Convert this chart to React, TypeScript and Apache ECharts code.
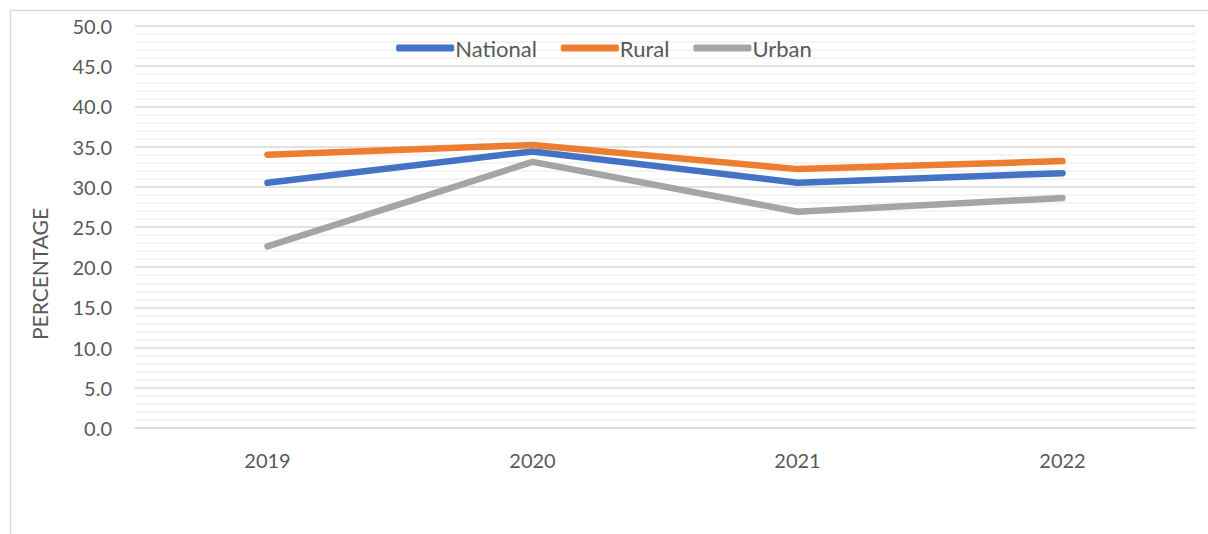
import React, { useEffect, useRef } from "react";
import * as echarts from "echarts";

const years = ["2019", "2020", "2021", "2022"];
const national = [30.5, 34.4, 30.5, 31.7];
const rural = [34.0, 35.2, 32.2, 33.2];
const urban = [22.6, 33.1, 26.9, 28.6];
const yAxisTitle = "PERCENTAGE";

const FONT = "Lato, 'Noto Sans', sans-serif";
const TEXT = "#595959";

export default function App() {
  const ref = useRef<HTMLDivElement>(null);
  useEffect(() => {
    if (!ref.current) return;
    const chart = echarts.init(ref.current, null, { renderer: "svg" });
    const mk = (name: string, data: number[], color: string) => ({
      name,
      type: "line",
      data,
      symbol: "none",
      lineStyle: { color, width: 6.5, cap: "round", join: "round" },
      itemStyle: { color },
      z: 3,
    });
    chart.setOption({
      animation: false,
      backgroundColor: "#ffffff",
      textStyle: { fontFamily: FONT },
      grid: { left: 135, right: 13, top: 26, bottom: 106 },
      legend: {
        top: 32,
        left: "center",
        icon: "roundRect",
        itemWidth: 58,
        itemHeight: 7,
        itemGap: 24,
        textStyle: { color: TEXT, fontSize: 22, fontFamily: FONT, padding: [0, 0, 0, -4] },
        data: ["National", "Rural", "Urban"],
      },
      xAxis: {
        type: "category",
        data: years,
        boundaryGap: true,
        axisLine: { show: true, lineStyle: { color: "#d9d9d9", width: 1.5 } },
        axisTick: { show: false },
        axisLabel: { color: TEXT, fontSize: 20, margin: 22, fontFamily: FONT },
        splitLine: { show: false },
      },
      yAxis: {
        type: "value",
        min: 0,
        max: 50,
        interval: 5,
        axisLine: { show: false },
        axisTick: { show: false },
        axisLabel: {
          color: TEXT,
          fontSize: 20,
          margin: 23,
          fontFamily: FONT,
          formatter: (v: number) => v.toFixed(1),
        },
        splitLine: { show: true, lineStyle: { color: "#d9d9d9", width: 1.5 } },
        minorTick: { show: false, splitNumber: 5 },
        minorSplitLine: { show: true, lineStyle: { color: "#f0f0f0", width: 1.5 } },
      },
      graphic: [
        {
          type: "rect",
          shape: { x: 10.5, y: 10.5, width: 1300, height: 600 },
          style: { fill: "none", stroke: "#d9d9d9", lineWidth: 1.5 },
          silent: true,
          z: -1,
        },
        {
          type: "text",
          x: 39,
          y: 274,
          rotation: Math.PI / 2,
          style: {
            text: yAxisTitle,
            fill: TEXT,
            fontSize: 21,
            fontFamily: FONT,
            align: "center",
            verticalAlign: "middle",
          },
        },
      ],
      series: [
        mk("National", national, "#4472c4"),
        mk("Rural", rural, "#ed7d31"),
        mk("Urban", urban, "#a5a5a5"),
      ],
    });
    return () => chart.dispose();
  }, []);
  return (
    <div
      ref={ref}
      style={{ position: "fixed", left: 0, top: 0, width: 1208, height: 534 }}
    />
  );
}
